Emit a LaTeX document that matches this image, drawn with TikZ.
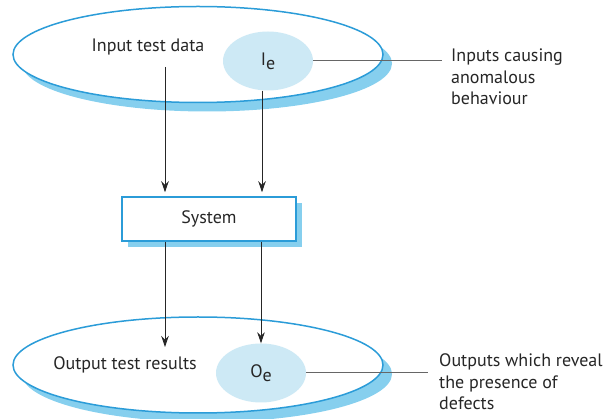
\documentclass[tikz,border=0pt]{standalone}
\usepackage{fontspec}
\setmainfont{PT Sans}
\usepackage{tikz}
\usetikzlibrary{shapes.geometric,shadows,arrows.meta}
\definecolor{edgeblue}{HTML}{2B9CD8}
\definecolor{shadeblue}{HTML}{86CFEE}
\definecolor{paleblue}{HTML}{CDE9F5}

\begin{document}
\begin{tikzpicture}[x=1pt,y=-1pt,
		setell/.style={draw=edgeblue, line width=1.5pt, fill=white, ellipse, minimum width=370pt, minimum height=96pt,
			drop shadow={shadow xshift=9pt, shadow yshift=-9pt, fill=shadeblue, opacity=1}},
		subell/.style={fill=paleblue, ellipse, minimum width=90pt, minimum height=59pt, inner sep=0pt},
		sysbox/.style={draw=edgeblue, line width=1.5pt, fill=white, minimum width=174pt, minimum height=44pt,
			drop shadow={shadow xshift=6pt, shadow yshift=-6pt, fill=shadeblue, opacity=1}},
		flow/.style={-{Stealth[length=11pt,width=7.5pt]}, line width=0.9pt, draw=black!85},
		leader/.style={draw=black!60, line width=1pt},
		lbl/.style={font=\fontsize{18}{21.5}\selectfont, text=black!85},
		note/.style={lbl, align=left, anchor=west, inner sep=0pt}]
	\useasboundingbox (0,0) rectangle (606,419);
	\node[setell] (inset) at (198,54.5){};
	\node[subell, lbl] (ie) at (268,61){I\raisebox{-4pt}{e}};
	\node[lbl] (intext) at (148,47){Input test data};
	\node[note] (inote) at (451,77){Inputs causing\\anomalous\\behaviour};
	\node[sysbox, lbl] (sys) at (209,219){System};
	\node[setell] (outset) at (198,365){};
	\node[subell, lbl] (oe) at (261,373){O\raisebox{-4pt}{e}};
	\node[lbl] (outtext) at (125,365){Output test results};
	\node[note] (onote) at (439,382){Outputs which reveal\\the presence of\\defects};
	\coordinate (instart) at (165,67);
	\coordinate (outend) at (165,347);
	\coordinate (inend) at (442,62);
	\coordinate (oend) at (428,372);
	\draw[flow, shorten >=4pt] (instart) -- (instart |- sys.north);
	\draw[flow, shorten >=4pt] ([xshift=-6pt]ie.south) -- ([xshift=-6pt]ie.south |- sys.north);
	\draw[flow] (instart |- sys.south) -- (outend);
	\draw[flow] (oe.north |- sys.south) -- (oe.north);
	\draw[leader] (ie.east) -- (ie.east -| inend);
	\draw[leader] (oe.east) -- (oe.east -| oend);
\end{tikzpicture}
\end{document}
